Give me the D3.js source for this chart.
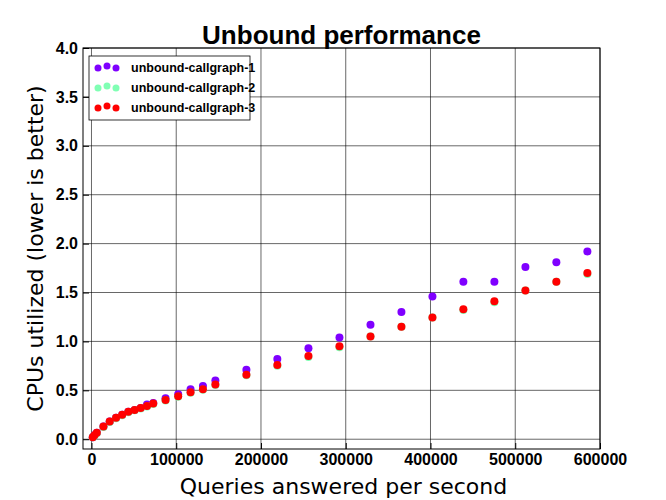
<!DOCTYPE html>
<html><head><meta charset="utf-8">
<script src="https://cdn.jsdelivr.net/npm/d3@7"></script>
<style>body{margin:0;background:#fff}svg{font-family:"DejaVu Sans",sans-serif}</style>
</head><body>
<script>
var qps = [1500, 3500, 6300, 14100, 21500, 29000, 36200, 43500, 50900, 58100, 65500, 72900,
  87400, 102300, 116900, 131500, 146200, 182800, 219300, 256000, 292600, 329200, 365700,
  402300, 438800, 475400, 512000, 548500, 585100];
var cg1 = [0.02, 0.04, 0.065, 0.13, 0.18, 0.22, 0.25, 0.28, 0.30, 0.32, 0.355, 0.37,
  0.42, 0.46, 0.51, 0.545, 0.60, 0.71, 0.82, 0.93, 1.04, 1.17, 1.30, 1.46, 1.61, 1.61, 1.76, 1.81, 1.92];
var cg2 = [0.02, 0.035, 0.06, 0.125, 0.175, 0.215, 0.245, 0.275, 0.295, 0.315, 0.335, 0.36,
  0.395, 0.435, 0.475, 0.505, 0.555, 0.655, 0.75, 0.84, 0.94, 1.05, 1.15, 1.245, 1.32, 1.40, 1.52, 1.61, 1.69];
var cg3 = [0.02, 0.04, 0.065, 0.13, 0.18, 0.22, 0.25, 0.28, 0.30, 0.32, 0.34, 0.365,
  0.40, 0.44, 0.48, 0.51, 0.56, 0.66, 0.76, 0.85, 0.95, 1.05, 1.15, 1.245, 1.33, 1.41, 1.52, 1.61, 1.70];
var names = ["unbound-callgraph-1", "unbound-callgraph-2", "unbound-callgraph-3"];
var colors = ["#7f00ff", "#80ffb4", "#ff0000"];
var xTicks = [0, 100000, 200000, 300000, 400000, 500000, 600000];
var yTicks = [0, 0.5, 1, 1.5, 2, 2.5, 3, 3.5, 4];

var W = 666, H = 500, L = 83, R = 600, T = 48, B = 449;
var svg = d3.select("body").append("svg").attr("width", W).attr("height", H);
var x = d3.scaleLinear().domain([-10000, 600000]).range([L, R]);
var y = d3.scaleLinear().domain([-0.1, 4]).range([B, T]);

svg.append("g").selectAll("line").data(xTicks).enter().append("line")
  .attr("x1", x).attr("x2", x).attr("y1", T).attr("y2", B).attr("stroke", "#000").attr("stroke-width", 0.6);
svg.append("g").selectAll("line").data(yTicks).enter().append("line")
  .attr("y1", y).attr("y2", y).attr("x1", L).attr("x2", R).attr("stroke", "#000").attr("stroke-width", 0.6);

var series = [cg1, cg2, cg3];
series.forEach(function(vals, i) {
  svg.append("g").selectAll("circle").data(vals).enter().append("circle")
    .attr("cx", function(d, j) { return x(qps[j]); })
    .attr("cy", function(d) { return y(d); })
    .attr("r", 4).attr("fill", colors[i]);
});

svg.append("rect").attr("x", L).attr("y", T).attr("width", R - L).attr("height", B - T)
  .attr("fill", "none").attr("stroke", "#000").attr("stroke-width", 1);

var xa = svg.append("g").attr("transform", "translate(0," + B + ")")
  .call(d3.axisBottom(x).tickValues(xTicks).tickFormat(d3.format("d")).tickSize(-6).tickPadding(5));
var ya = svg.append("g").attr("transform", "translate(" + L + ",0)")
  .call(d3.axisLeft(y).tickValues(yTicks).tickFormat(d3.format(".1f")).tickSize(-6).tickPadding(5));
[xa, ya].forEach(function(a) {
  a.select(".domain").remove();
  a.selectAll("text").attr("font-size", 16).attr("font-weight", "bold").attr("fill", "#000")
    .attr("font-family", "Liberation Sans");
});

svg.append("text").attr("x", (L + R) / 2).attr("y", 44).attr("text-anchor", "middle")
  .attr("font-family", "Liberation Sans").attr("font-size", 26).attr("font-weight", "bold").text("Unbound performance");
svg.append("text").attr("x", (L + R) / 2 + 2).attr("y", 494).attr("text-anchor", "middle")
  .attr("font-size", 22).text("Queries answered per second");
svg.append("text").attr("transform", "translate(43," + ((T + B) / 2) + ") rotate(-90)")
  .attr("text-anchor", "middle").attr("font-size", 22).text("CPUs utilized (lower is better)");

var lg = svg.append("g").attr("transform", "translate(89,56)");
lg.append("rect").attr("width", 161).attr("height", 64).attr("fill", "#fff").attr("stroke", "#000").attr("stroke-width", 0.8);
names.forEach(function(n, i) {
  var cy = 12 + i * 20;
  [9, 18, 27].forEach(function(dx, k) {
    lg.append("circle").attr("cx", dx).attr("cy", cy + (k === 1 ? -2 : 0)).attr("r", 3.5).attr("fill", colors[i]);
  });
  lg.append("text").attr("x", 42).attr("y", cy + 4).attr("font-family", "Liberation Sans")
    .attr("font-size", 12.5).attr("font-weight", "bold").text(n);
});
</script>
</body></html>
